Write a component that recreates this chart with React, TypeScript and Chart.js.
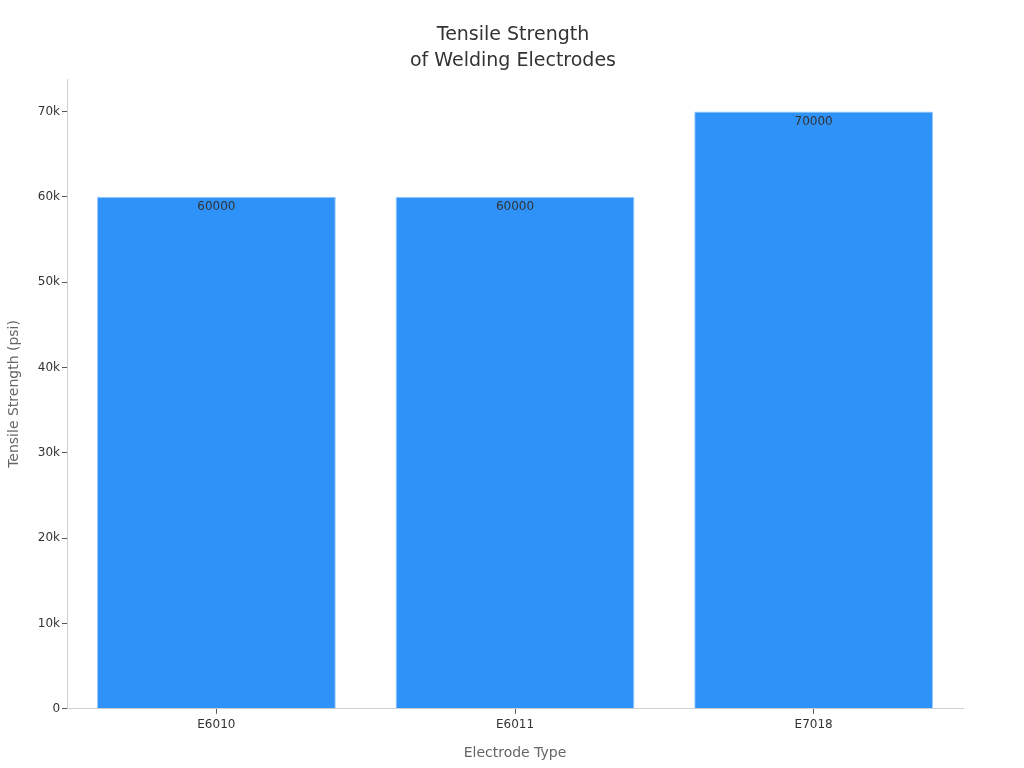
import { useEffect, useRef } from 'react';
import { Chart, registerables } from 'chart.js';

Chart.register(...registerables);

const CATEGORIES = ['E6010', 'E6011', 'E7018'];
const STRENGTH_PSI = [60000, 60000, 70000];
const Y_TICKS = [0, 10000, 20000, 30000, 40000, 50000, 60000, 70000];
const FONT = "'DejaVu Sans', sans-serif";

// 막대 상단 안쪽에 값 표시
const valueLabels = {
  id: 'valueLabels',
  afterDatasetsDraw(chart: Chart) {
    const { ctx } = chart;
    const meta = chart.getDatasetMeta(0);
    ctx.save();
    ctx.font = `12px ${FONT}`;
    ctx.fillStyle = '#333333';
    ctx.textAlign = 'center';
    ctx.textBaseline = 'top';
    meta.data.forEach((bar: any, i: number) => {
      ctx.fillText(String(STRENGTH_PSI[i]), bar.x, bar.y + 4);
    });
    ctx.restore();
  },
};

export default function App() {
  const canvasRef = useRef<HTMLCanvasElement>(null);
  const chartRef = useRef<Chart | null>(null);

  useEffect(() => {
    if (!canvasRef.current) return;
    chartRef.current?.destroy();

    chartRef.current = new Chart(canvasRef.current, {
      type: 'bar',
      data: {
        labels: CATEGORIES,
        datasets: [
          {
            label: 'Tensile Strength',
            data: STRENGTH_PSI,
            backgroundColor: '#2f92f8',
            borderColor: '#9fcdfb',
            borderWidth: 1,
            barPercentage: 0.8,
            categoryPercentage: 1,
          },
        ],
      },
      options: {
        responsive: true,
        maintainAspectRatio: false,
        animation: false,
        layout: { padding: { top: 22, right: 4, left: 6, bottom: 6 } },
        plugins: {
          legend: { display: false },
          tooltip: { enabled: false },
          title: {
            display: true,
            text: ['Tensile Strength', 'of Welding Electrodes'],
            color: '#333333',
            font: { family: FONT, size: 19, weight: 'normal', lineHeight: 1.37 },
            padding: { top: 0, bottom: 5 },
          },
        },
        scales: {
          x: {
            grid: {
              display: true,
              offset: false,
              drawOnChartArea: false,
              drawTicks: true,
              tickLength: 5,
              color: '#555555',
            },
            border: { display: true, color: '#d0d0d0' },
            ticks: { color: '#333333', font: { family: FONT, size: 12 }, padding: 4 },
            title: {
              display: true,
              text: 'Electrode Type',
              color: '#666666',
              font: { family: FONT, size: 14 },
              padding: { top: 9, bottom: 0 },
            },
          },
          y: {
            min: 0,
            max: 73800,
            afterBuildTicks: (scale) => {
              scale.ticks = Y_TICKS.map((value) => ({ value }));
            },
            grid: { display: true, drawOnChartArea: false, drawTicks: true, tickLength: 5, color: '#555555' },
            border: { display: true, color: '#d0d0d0' },
            ticks: {
              color: '#333333',
              font: { family: FONT, size: 12 },
              padding: 2,
              callback: (v) => (Number(v) === 0 ? '0' : `${Number(v) / 1000}k`),
            },
            title: {
              display: true,
              text: 'Tensile Strength (psi)',
              color: '#666666',
              font: { family: FONT, size: 14 },
              padding: { top: 0, bottom: 13 },
            },
          },
          // 오른쪽 여백용 빈 축
          yRight: {
            position: 'right',
            display: true,
            grid: { display: false },
            border: { display: false },
            ticks: { display: false },
            afterFit: (scale) => {
              scale.width = 57;
            },
          },
        },
      },
      plugins: [valueLabels],
    });

    return () => {
      chartRef.current?.destroy();
      chartRef.current = null;
    };
  }, []);

  return (
    <div style={{ position: 'fixed', left: 0, top: 0, width: 1024, height: 768, background: '#ffffff' }}>
      <canvas ref={canvasRef} />
    </div>
  );
}
